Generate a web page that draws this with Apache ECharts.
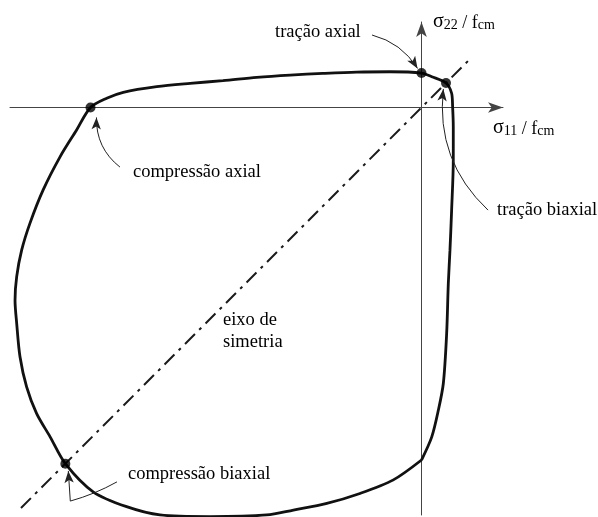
<!DOCTYPE html>
<html>
<head>
<meta charset="utf-8">
<script src="https://cdn.jsdelivr.net/npm/echarts@6/dist/echarts.min.js"></script>
<style>
  html, body { margin: 0; padding: 0; background: #fff; }
  #chart { width: 598px; height: 517px; }
</style>
</head>
<body>
<div id="chart"></div>
<script>
// Biaxial failure envelope of concrete, stresses normalised by fcm.
// Envelope traced counter-clockwise starting at the kink on the σ22 axis (bottom).
const envelopeX = [
  0, 0.031, 0.051, 0.066, 0.076, 0.081, 0.086, 0.091, 0.096, 0.096, 0.094, 0.091, 0.074, 0.031,
  0, -0.095, -0.196, -0.298, -0.397, -0.498, -0.600, -0.699, -0.800, -0.901, -0.951,
  -1.0, -1.042, -1.092, -1.143, -1.183, -1.208, -1.223, -1.228, -1.223, -1.213, -1.193, -1.163, -1.122,
  -1.076, -0.992, -0.891, -0.790, -0.639, -0.468, -0.387, -0.286, -0.186, -0.085, 0
];
const envelopeY = [
  -1.065, -0.995, -0.914, -0.833, -0.682, -0.531, -0.431, -0.310, -0.159, -0.058, 0.002, 0.043, 0.074, 0.093,
  0.104, 0.108, 0.107, 0.103, 0.098, 0.091, 0.081, 0.073, 0.063, 0.046, 0.028,
  0, -0.068, -0.149, -0.249, -0.350, -0.431, -0.511, -0.582, -0.652, -0.753, -0.844, -0.924, -0.995,
  -1.076, -1.161, -1.206, -1.231, -1.236, -1.231, -1.216, -1.196, -1.166, -1.125, -1.065
];

// Characteristic states on the envelope
const keyPointNames = ['tração axial', 'compressão axial', 'compressão biaxial', 'tração biaxial'];
const keyPointX = [0, -1.0, -1.076, 0.074];
const keyPointY = [0.104, 0, -1.076, 0.074];

// Symmetry axis σ11 = σ22 (end values)
const symmetryEnds = [-1.21, 0.153];

// Axis extents (equal scale on both axes)
const xRange = [-1.2432, 0.2462];
const yRange = [-1.2311, 0.2583];

// Leader lines from the captions to the points
const leaders = [
  { from: [-0.1495, 0.219], to: [-0.012, 0.118], curve: 0.2 },
  { from: [-0.911, -0.180], to: [-0.982, -0.030], curve: 0.25 },
  { from: [0.201, -0.310], to: [0.066, 0.056], curve: 0.25 },
  { from: [-1.061, -1.189], to: [-1.067, -1.098], curve: 0 }
];
const leaderTails = [
  { from: [-0.920, -1.131], to: [-1.061, -1.189], curve: 0.06 }
];

const serif = '"Liberation Serif", "DejaVu Serif", serif';
const ink = '#000';

const chart = echarts.init(document.getElementById('chart'), null, { renderer: 'canvas' });

const axisCommon = {
  type: 'value',
  axisLine: {
    show: true,
    onZero: true,
    symbol: ['none', 'arrow'],
    symbolSize: [8, 15],
    lineStyle: { color: '#444', width: 1 }
  },
  axisTick: { show: false },
  axisLabel: { show: false },
  splitLine: { show: false }
};

const caption = (x, y, text, extra) => ({
  type: 'text',
  x: x,
  y: y,
  z: 50,
  style: Object.assign({
    text: text,
    font: '18.5px ' + serif,
    fill: ink,
    verticalAlign: 'middle',
    align: 'left'
  }, extra || {})
});

const sigmaRich = {
  s: { fontFamily: serif, fontSize: 20, fill: ink, color: ink, verticalAlign: 'bottom' },
  n: { fontFamily: serif, fontSize: 14, fill: ink, color: ink, verticalAlign: 'bottom' },
  t: { fontFamily: serif, fontSize: 18, fill: ink, color: ink, verticalAlign: 'bottom' }
};

chart.setOption({
  animation: false,
  backgroundColor: '#fff',
  grid: { left: 10, right: 95, top: 22, bottom: 2 },
  xAxis: Object.assign({ min: xRange[0], max: xRange[1] }, axisCommon),
  yAxis: Object.assign({ min: yRange[0], max: yRange[1] }, axisCommon),
  series: [
    {
      name: 'eixo de simetria',
      type: 'line',
      data: symmetryEnds.map(v => [v, v]),
      symbol: 'none',
      clip: false,
      z: 2,
      lineStyle: { color: '#1a1a1a', width: 2, type: [14, 6, 3, 6] }
    },
    {
      name: 'envoltória',
      type: 'line',
      data: envelopeX.map((x, i) => [x, envelopeY[i]]),
      smooth: 0.3,
      symbol: 'none',
      clip: false,
      z: 3,
      lineStyle: { color: '#111', width: 2.8 }
    },
    {
      name: 'pontos',
      type: 'scatter',
      data: keyPointX.map((x, i) => ({ name: keyPointNames[i], value: [x, keyPointY[i]] })),
      symbol: 'circle',
      symbolSize: 10,
      clip: false,
      z: 5,
      itemStyle: { color: '#000' }
    },
    {
      name: 'chamadas',
      type: 'lines',
      coordinateSystem: 'cartesian2d',
      symbol: ['none', 'arrow'],
      symbolSize: [[7, 12], [7, 12]],
      z: 4,
      lineStyle: { color: '#222', width: 1, opacity: 1 },
      data: leaders.map(l => ({ coords: [l.from, l.to], lineStyle: { curveness: l.curve } }))
    },
    {
      name: 'chamadas-base',
      type: 'lines',
      coordinateSystem: 'cartesian2d',
      symbol: ['none', 'none'],
      z: 4,
      lineStyle: { color: '#222', width: 1, opacity: 1 },
      data: leaderTails.map(l => ({ coords: [l.from, l.to], lineStyle: { curveness: l.curve } }))
    }
  ],
  graphic: [
    caption(275, 32, 'tração axial'),
    caption(133, 172, 'compressão axial'),
    caption(497, 210, 'tração biaxial'),
    caption(223, 331, 'eixo de\nsimetria', { lineHeight: 22 }),
    caption(128, 474, 'compressão biaxial'),
    caption(433, 22, '{s|σ}{n|22}{t| / f}{n|cm}', { rich: sigmaRich }),
    caption(493, 128, '{s|σ}{n|11}{t| / f}{n|cm}', { rich: sigmaRich })
  ]
});
</script>
</body>
</html>
